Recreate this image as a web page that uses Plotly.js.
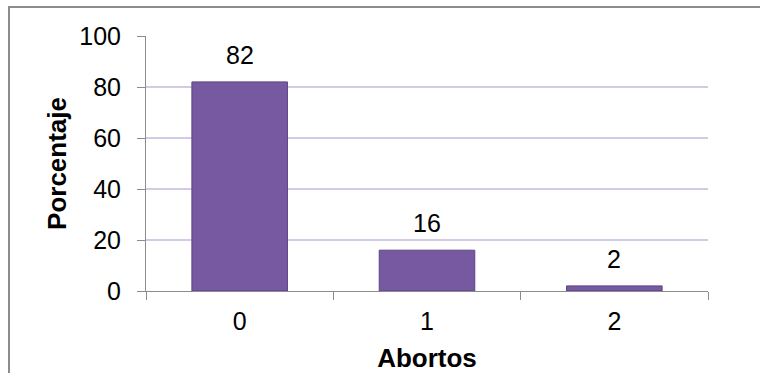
<!DOCTYPE html>
<html>
<head>
<meta charset="utf-8">
<script src="https://cdn.plot.ly/plotly-3.0.1.min.js"></script>
<style>
  html, body { margin: 0; padding: 0; background: #ffffff; }
  #wrap { position: relative; width: 760px; height: 373px; overflow: hidden; }
  #chart { position: absolute; left: 0; top: 0; width: 760px; height: 373px; }
  #frame { position: absolute; left: 8px; top: 6px; width: 800px; height: 400px;
           border-left: 2px solid #8c8c8c; border-top: 2px solid #8c8c8c; pointer-events: none; }
</style>
</head>
<body>
<div id="wrap">
  <div id="chart"></div>
  <div id="frame"></div>
</div>
<script>
// Data
const categories = ["0", "1", "2"];
const values = [82, 16, 2];
const xTitle = "Abortos";
const yTitle = "Porcentaje";

const font = "Liberation Sans, Arial, sans-serif";

const trace = {
  type: "bar",
  x: categories,
  y: values,
  marker: { color: "#7759a2", line: { color: "#5c4383", width: 1 } },
  width: 0.51,
  hoverinfo: "none"
};

const annotations = categories.map((c, i) => ({
  x: c, y: values[i], xref: "x", yref: "y",
  text: String(values[i]), showarrow: false,
  yanchor: "bottom", yshift: 11,
  font: { family: font, size: 25, color: "#000000" }
}));

const layout = {
  width: 760, height: 373,
  margin: { l: 146, r: 52, t: 36, b: 82 },
  paper_bgcolor: "rgba(0,0,0,0)",
  plot_bgcolor: "#ffffff",
  showlegend: false,
  font: { family: font, size: 25, color: "#000000" },
  xaxis: {
    type: "category",
    tickson: "boundaries",
    ticks: "outside", ticklen: 8, tickwidth: 1, tickcolor: "#8c8c8c",
    showline: true, linecolor: "#8c8c8c", linewidth: 1,
    showgrid: false, zeroline: false,
    ticklabelstandoff: 8,
    tickfont: { family: font, size: 25, color: "#000000" },
    title: { text: "<b>" + xTitle + "</b>", font: { family: font, size: 26, color: "#000000" }, standoff: 14 }
  },
  yaxis: {
    range: [0, 100], dtick: 20, tick0: 0,
    ticks: "outside", ticklen: 8, tickwidth: 1, tickcolor: "#8c8c8c",
    showline: true, linecolor: "#8c8c8c", linewidth: 1,
    showgrid: true, gridcolor: "#d3cbe4", gridwidth: 1.5,
    zeroline: false,
    ticklabelstandoff: 11,
    tickfont: { family: font, size: 25, color: "#000000" },
    title: { text: "<b>" + yTitle + "</b>", font: { family: font, size: 26, color: "#000000" }, standoff: 5 }
  },
  annotations: annotations
};

Plotly.newPlot("chart", [trace], layout, { displayModeBar: false, staticPlot: true });
</script>
</body>
</html>
